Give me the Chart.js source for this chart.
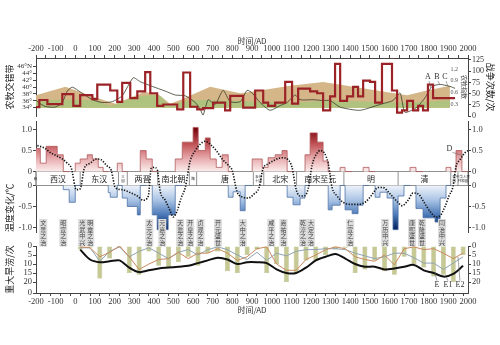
<!DOCTYPE html>
<html>
<head>
<meta charset="utf-8">
<script src="https://cdn.jsdelivr.net/npm/chart.js@4.4.1/dist/chart.umd.min.js"></script>
<style>
  body { margin: 0; background: #fff; width: 500px; height: 345px; position: relative; overflow: hidden; }
  canvas { position: absolute; left: 0; }
</style>
</head>
<body>
<canvas id="c1" width="500" height="122" style="top:0;width:500px;height:122px"></canvas>
<canvas id="c2" width="500" height="135" style="top:115px;width:500px;height:135px"></canvas>
<canvas id="c3" width="500" height="109" style="top:236px;width:500px;height:109px"></canvas>
<script>
// ---- top panel: 农牧交错带 / 战争次数 ----
const tanYears = [-200, -50, 112, 204, 350, 420, 483, 534, 687, 840, 941, 1094, 1262, 1384, 1567, 1690, 1791, 1908];
const tanLat = [37.6, 40.1, 36.8, 35.1, 38.6, 38.0, 35.1, 36.2, 40.1, 38.2, 39.0, 40.4, 41.5, 40.4, 38.7, 37.6, 39.0, 40.4];
const greenYears = [-200, -76, 102, 178, 229, 305, 382, 433, 473, 499, 534, 636, 789, 941, 1094, 1298, 1501, 1705, 1908];
const greenLat = [36.0, 36.3, 36.0, 34.6, 35.4, 37.1, 37.6, 37.4, 35.0, 34.3, 35.7, 36.2, 36.0, 35.7, 35.4, 36.0, 35.7, 35.4, 36.2];
const idxYears = [-219, -188, -153, -102, -66, -41, -15, 25, 87, 137, 188, 239, 295, 331, 392, 458, 509, 560, 611, 636, 651, 677, 712, 753, 789, 840, 875, 901, 941, 992, 1043, 1079, 1120, 1145, 1211, 1262, 1298, 1349, 1450, 1552, 1618, 1654, 1679, 1740, 1781, 1817, 1858, 1908, 1934];
const idxValues = [0.52, 0.35, 0.25, 0.23, 0.35, 0.64, 0.74, 0.62, 0.42, 0.35, 0.37, 0.52, 0.98, 0.88, 0.76, 0.64, 0.54, 0.52, 0.35, 0.18, 0.03, 0.42, 0.30, 0.66, 0.37, 0.37, 0.66, 0.59, 0.35, 0.15, 0.27, 0.35, 0.54, 0.42, 0.42, 0.40, 0.40, 0.23, 0.15, 0.30, 0.40, 0.59, 0.10, 0.23, 0.47, 0.76, 0.81, 0.76, 0.71];
const warYears = [-219, -183, -142, -66, -10, 25, 87, 112, 178, 214, 239, 280, 316, 356, 382, 417, 448, 519, 550, 585, 621, 651, 702, 763, 789, 855, 916, 957, 982, 1018, 1069, 1104, 1135, 1196, 1232, 1262, 1298, 1323, 1349, 1384, 1415, 1440, 1466, 1501, 1527, 1562, 1613, 1639, 1664, 1690, 1720, 1746, 1771, 1796, 1822, 1883, 1934];
const warCounts = [40, 20, 36, 27, 49, 23, 47, 38, 70, 57, 32, 74, 40, 55, 98, 51, 23, 26, 15, 97, 21, 15, 18, 30, 13, 45, 19, 57, 30, 23, 30, 76, 28, 61, 55, 51, 13, 44, 116, 34, 44, 65, 44, 79, 76, 30, 116, 57, 8, 13, 34, 13, 23, 13, 70, 40, 40];
const markNames = ['A', 'B', 'C'];
const markYears = [1796, 1842, 1883];
const markTargets = [0.72, 0.8, 0.76];

// ---- middle panel: 温度变化 ----
const tempYears = [-219, -178, -148, -92, -61, -31, 0, 25, 61, 87, 117, 142, 168, 178, 214, 239, 265, 316, 331, 361, 392, 417, 473, 509, 545, 600, 626, 662, 687, 718, 748, 779, 804, 840, 865, 901, 952, 982, 1018, 1053, 1079, 1109, 1145, 1170, 1196, 1232, 1262, 1288, 1308, 1349, 1374, 1410, 1440, 1466, 1496, 1527, 1552, 1588, 1618, 1644, 1674, 1705, 1735, 1771, 1796, 1832, 1858, 1888, 1913, 1939, 1969];
const tempValues = [1.0, 0.55, 0.2, 0.6, 0.4, -0.1, -0.4, 0.2, 0.3, 0.4, 0.3, 0.1, 0, -0.17, -0.28, 0.2, -0.3, -0.5, -0.7, 0.5, 0.3, -0.7, -1.05, -0.7, 0.3, 0.7, 1.05, 0.5, 0.8, 0.3, 0.1, 0.4, -0.28, -0.15, -0.6, 0, 0.3, 0.1, 0.33, 0.4, 0.5, -0.28, -0.46, -0.3, 0.4, 0.92, 0.7, 0.25, -0.58, -0.47, 0.1, -0.58, -0.67, -0.47, 0.1, 0, -0.28, -0.16, -0.3, -1.05, -0.25, 0, 0.1, -0.55, -0.77, -0.77, -0.87, -0.3, 0.1, 0, 0.5];
const curveYears = [-193, -153, -127, -97, -66, -41, -20, 5, 25, 46, 76, 107, 132, 158, 183, 204, 239, 280, 316, 346, 372, 387, 402, 417, 433, 458, 483, 499, 519, 539, 560, 585, 611, 636, 662, 687, 718, 748, 779, 799, 824, 855, 880, 911, 936, 957, 982, 1018, 1053, 1084, 1104, 1125, 1145, 1165, 1186, 1206, 1226, 1247, 1267, 1288, 1308, 1333, 1364, 1399, 1440, 1481, 1511, 1542, 1567, 1603, 1639, 1664, 1695, 1720, 1746, 1776, 1807, 1837, 1858, 1883, 1903, 1924, 1939, 1959, 1985, 2000];
const curveValues = [0.62, 0.55, 0.45, 0.38, 0.3, 0.2, 0.08, -0.1, -0.08, 0.08, 0.2, 0.3, 0.28, 0.15, 0.03, -0.05, -0.1, -0.17, -0.25, -0.35, -0.25, 0.08, 0.1, 0.05, -0.15, -0.35, -0.6, -0.75, -0.6, -0.3, -0.05, 0.25, 0.5, 0.65, 0.72, 0.65, 0.5, 0.3, 0.15, 0.03, -0.15, -0.28, -0.3, -0.2, -0.05, 0.08, 0.18, 0.28, 0.33, 0.28, 0.1, -0.1, -0.25, -0.25, -0.08, 0.15, 0.4, 0.5, 0.45, 0.2, -0.05, -0.25, -0.4, -0.45, -0.45, -0.38, -0.22, -0.05, -0.05, -0.2, -0.38, -0.48, -0.35, -0.18, -0.2, -0.4, -0.62, -0.75, -0.72, -0.5, -0.25, -0.02, 0.12, 0.28, 0.45, 0.5];
const dynastyNames = ['秦', '西汉', '东汉', '三国', '两晋', '南北朝', '隋', '唐', '五代十国', '北宋', '南宋至元', '明', '清', '民国', '中华人民共和国'];
const dynastyStart = [-221, -206, 25, 220, 265, 420, 581, 618, 907, 960, 1127, 1368, 1644, 1912, 1949];
const eventNames = ['文景之治', '昭宣之治', '光武中兴', '明章之治', '太元之治', '元嘉之治', '天监之治', '开皇之治', '贞观之治', '开元盛世', '大中之治', '咸平之治', '嘉祐之治', '乾淳之治', '大定之治', '仁宣之治', '万历中兴', '康熙盛世', '乾隆盛世', '同治中兴'];
const eventYears = [-163, -61, 35, 76, 377, 443, 534, 585, 638, 727, 853, 998, 1060, 1160, 1200, 1400, 1578, 1715, 1766, 1868];

// ---- bottom panel: 重大旱涝 ----
const floodYears = [25, 75, 125, 175, 225, 275, 325, 375, 425, 475, 525, 575, 625, 675, 725, 775, 825, 875, 925, 975, 1025, 1075, 1125, 1175, 1225, 1275, 1325, 1375, 1425, 1475, 1525, 1575, 1625, 1675, 1725, 1775, 1825, 1875, 1925, 1975];
const floodCounts = [2, 1, 18, 7, 1, 15, 16, 3, 11, 12, 9, 6, 11, 4, 3, 14, 15, 5, 2, 15, 10, 20, 15, 8, 8, 5, 2, 1, 15, 13, 8, 14, 16, 6, 10, 12, 17, 16, 20, 5];
const blackLine = [2, 7.5, 9, 8.5, 8, 12, 14.5, 13.5, 12.5, 12, 11.5, 11, 9.5, 8, 6.5, 7.5, 10, 9, 9, 9.5, 13, 15, 15, 12, 8, 6, 4.5, 7, 10, 11.5, 11.5, 13, 12.5, 11.5, 10.5, 13.5, 15, 17, 15.5, 11];
const orangeLine = [0.5, 1, 6, 3.5, 0, 6, 13, 10, 7.5, 7, 3.5, 7, 4, 4, 1.5, 4, 8, 6, 1.5, 0.5, 10, 13.5, 13.5, 7.5, 5, 2, 0.5, 1.5, 6, 7.5, 8.5, 5, 10.5, 1.5, 0.5, 2, 1.5, 4, 7, 4];
const grayLine = [1, 1, 8.5, 3, 0.5, 6, 3, 1, 4, 7, 3.5, 2, 5, 2, 0.5, 2, 5, 7.5, 3.5, 8, 4, 5.5, 3, 2, 2, 1.5, 1.5, 2, 4, 5.5, 7, 6, 4, 4, 6.5, 9.5, 9.5, 13, 9.5, 6];
const eNames = ['E', 'E1', 'E2'];
const eYears = [1842, 1898, 1959];
const eTargets = [15, 17, 6];

const CJK = '"Noto Sans CJK SC", sans-serif';
const SERIF = '"Liberation Serif", "DejaVu Serif", serif';
const AXIS = '#444';
const GAP = 0.165;

function xAxis(pos, show) {
  return {
    type: 'linear', position: pos, min: -200, max: 2000, offset: false, display: show,
    grid: { drawOnChartArea: false, tickLength: 3, color: AXIS },
    border: { color: AXIS },
    ticks: {
      stepSize: 50, autoSkip: false, maxRotation: 0, padding: 1, color: '#333',
      font: { family: SERIF, size: 8.5 },
      callback: v => (v % 100 === 0 ? String(v) : '')
    },
    title: { display: show, text: '时间/AD', color: '#333', font: { family: CJK, size: 8 }, padding: 0 },
    afterFit: a => { a.height = show ? 22 : 0; }
  };
}

function yAxis(pos, min, max, ticks, label, title, align, size) {
  return {
    type: 'linear', position: pos, min: min, max: max,
    grid: { drawOnChartArea: false, tickLength: 3, color: AXIS },
    border: { color: AXIS },
    afterBuildTicks: a => { a.ticks = ticks.map(v => ({ value: v })); },
    ticks: { autoSkip: false, color: '#333', padding: 1, font: { family: SERIF, size: size || 8.5 }, callback: label },
    title: title ? { display: true, text: title, align: align || 'center', color: '#222', font: { family: CJK, size: 9 }, padding: { top: 4, bottom: 0 } } : { display: false },
    afterFit: a => { a.width = pos === 'left' ? 36 : 32; }
  };
}

const baseOpts = {
  responsive: false, animation: false, events: [],
  plugins: { legend: { display: false }, tooltip: { enabled: false } }
};

function pts(xs, ys) { return xs.map((x, i) => ({ x: x, y: ys[i] })); }

// ---------- chart 1 ----------
const abcPlugin = {
  id: 'abc',
  afterDatasetsDraw(chart) {
    const c = chart.ctx, x = chart.scales.x, y = chart.scales.yI;
    c.save();
    c.font = '8px ' + SERIF; c.fillStyle = '#333'; c.strokeStyle = '#666'; c.lineWidth = 0.6;
    c.textAlign = 'center'; c.textBaseline = 'middle';
    markNames.forEach((n, i) => {
      const px = x.getPixelForValue(markYears[i]), py = y.getPixelForValue(1.0);
      c.fillText(n, px, py);
      c.beginPath(); c.moveTo(px + 1, py + 4);
      c.lineTo(x.getPixelForValue(markYears[i] + 15), y.getPixelForValue(markTargets[i]));
      c.stroke();
    });
    c.restore();
  }
};

new Chart(document.getElementById('c1'), {
  type: 'line',
  data: {
    datasets: [
      { data: pts(warYears, warCounts), yAxisID: 'yW', stepped: 'after', borderColor: '#9b2226', borderWidth: 2.2, pointRadius: 0, fill: false },
      { data: pts(idxYears, idxValues), yAxisID: 'yI', borderColor: '#3b3b2b', borderWidth: 0.8, pointRadius: 0, tension: 0.2, fill: false },
      { data: pts(greenYears, greenLat), yAxisID: 'yL', borderColor: 'rgba(0,0,0,0)', borderWidth: 0, backgroundColor: '#afc27e', pointRadius: 0, tension: 0.2, fill: { value: 34 } },
      { data: pts(tanYears, tanLat), yAxisID: 'yL', borderColor: 'rgba(0,0,0,0)', borderWidth: 0, backgroundColor: '#d4b688', pointRadius: 0, tension: 0, fill: { value: 34 } }
    ]
  },
  options: Object.assign({}, baseOpts, {
    layout: { padding: { top: 36, bottom: 3, left: 0, right: 0 } },
    scales: {
      x: xAxis('top', true),
      yL: yAxis('left', 31.49, 48.53, [34, 36, 38, 40, 42, 44, 46], v => (v === 46 ? '46°N' : v + '°'), '农牧交错带', 'center', 7),
      yI: {
        type: 'linear', position: 'right', min: 0, max: 1.484,
        grid: { display: false }, border: { display: false },
        afterBuildTicks: a => { a.ticks = [0.3, 0.6, 0.9, 1.2].map(v => ({ value: v })); },
        ticks: { autoSkip: false, mirror: true, padding: -10, color: '#555', font: { family: SERIF, size: 6 }, callback: v => v.toFixed(1) },
        title: { display: true, text: '农牧指数', color: '#333', font: { family: CJK, size: 6 }, padding: { top: 0, bottom: 0 } },
        afterFit: a => { a.width = 0; }
      },
      yW: yAxis('right', 0, 129.2, [0, 25, 50, 75, 100, 125], v => String(v), '战争次数/次', 'center', 8)
    }
  }),
  plugins: [abcPlugin]
});

// ---------- chart 2 ----------
function toU(v) { return v > 0 ? v + GAP : (v < 0 ? v - GAP : 0); }
function fromU(u) {
  const v = Math.round((u > 0 ? u - GAP : u + GAP) * 10) / 10;
  return v === 0 ? '0' : v.toFixed(1);
}
const uTicks = [1 + GAP, 0.5 + GAP, GAP, -GAP, -0.5 - GAP, -1 - GAP];

const warmPts = tempYears.map((yr, i) => ({ x: yr, y: tempValues[i] > 0 ? tempValues[i] + GAP : GAP }));
warmPts.push({ x: 2000, y: GAP });
const coldPts = tempYears.map((yr, i) => ({ x: yr, y: tempValues[i] < 0 ? tempValues[i] - GAP : -GAP }));
coldPts.push({ x: 2000, y: -GAP });

function grad(chart, from, to, stops) {
  const a = chart.chartArea;
  if (!a) return 'rgba(0,0,0,0)';
  const s = chart.scales.y;
  const g = chart.ctx.createLinearGradient(0, s.getPixelForValue(from), 0, s.getPixelForValue(to));
  stops.forEach(st => g.addColorStop(st[0], st[1]));
  return g;
}

const bandPlugin = {
  id: 'band',
  beforeDatasetsDraw(chart) {
    const c = chart.ctx, x = chart.scales.x, y = chart.scales.y, a = chart.chartArea;
    const top = y.getPixelForValue(GAP), bot = y.getPixelForValue(-GAP);
    c.save();
    c.fillStyle = '#fff'; c.strokeStyle = '#777'; c.lineWidth = 0.8;
    c.fillRect(a.left, top, a.right - a.left, bot - top);
    c.strokeRect(a.left, top, a.right - a.left, bot - top);
    c.textAlign = 'center'; c.textBaseline = 'middle'; c.fillStyle = '#222';
    dynastyNames.forEach((n, i) => {
      const x0 = x.getPixelForValue(Math.max(dynastyStart[i], -200));
      const x1 = x.getPixelForValue(i + 1 < dynastyStart.length ? dynastyStart[i + 1] : 2000);
      if (i > 0) { c.beginPath(); c.moveTo(x0, top); c.lineTo(x0, bot); c.stroke(); }
      const w = x1 - x0, mid = (x0 + x1) / 2, cy = (top + bot) / 2;
      if (w > 22) {
        c.font = '8px ' + CJK; c.fillText(n, mid, cy);
      } else {
        c.font = '3.5px ' + CJK;
        const lines = n.length > 2 ? [n.slice(0, Math.ceil(n.length / 2)), n.slice(Math.ceil(n.length / 2))] : (w < 10 && n.length === 2 ? [n[0], n[1]] : [n]);
        lines.forEach((l, k) => c.fillText(l, mid, cy + (k - (lines.length - 1) / 2) * 4.5));
      }
    });
    c.restore();
  },
  afterDatasetsDraw(chart) {
    const c = chart.ctx, x = chart.scales.x, y = chart.scales.y, a = chart.chartArea;
    c.save();
    c.font = '6px ' + CJK; c.textAlign = 'center'; c.textBaseline = 'middle';
    eventNames.forEach((n, i) => {
      const px = x.getPixelForValue(eventYears[i]);
      const top = a.bottom - 13, h = n.length * 6.6 + 1;
      c.fillStyle = '#dcdcdc'; c.fillRect(px - 4, top, 8, h);
      c.fillStyle = '#444';
      for (let k = 0; k < n.length; k++) c.fillText(n[k], px, top + 3.8 + k * 6.6);
    });
    // D marker
    const dx = x.getPixelForValue(1905), dy = y.getPixelForValue(toU(0.55));
    c.font = '8px ' + SERIF; c.fillStyle = '#333'; c.fillText('D', dx, dy);
    c.strokeStyle = '#666'; c.lineWidth = 0.6;
    c.beginPath(); c.moveTo(dx + 3, dy + 4); c.lineTo(x.getPixelForValue(1975), y.getPixelForValue(toU(0.38))); c.stroke();
    c.restore();
  }
};

new Chart(document.getElementById('c2'), {
  type: 'line',
  data: {
    datasets: [
      { data: pts(curveYears, curveValues.map(toU)), borderColor: '#111', borderWidth: 1.6, borderDash: [1.3, 1.5], pointRadius: 0, cubicInterpolationMode: 'monotone', fill: false },
      {
        data: warmPts, stepped: 'after', pointRadius: 0, borderWidth: 0.8, borderColor: '#b05a5c',
        segment: { borderColor: s => (s.p0.parsed.y === GAP && s.p1.parsed.y === GAP ? 'rgba(0,0,0,0)' : undefined) },
        backgroundColor: c => grad(c.chart, 1 + GAP, GAP, [[0, '#7a0710'], [0.35, '#c25458'], [0.7, '#e9aeb0'], [1, '#fbeeee']]),
        fill: { value: GAP }
      },
      {
        data: coldPts, stepped: 'after', pointRadius: 0, borderWidth: 0.8, borderColor: '#4f72a6',
        segment: { borderColor: s => (s.p0.parsed.y === -GAP && s.p1.parsed.y === -GAP ? 'rgba(0,0,0,0)' : undefined) },
        backgroundColor: c => grad(c.chart, -GAP, -1 - GAP, [[0, '#eef3fa'], [0.35, '#a9c3e4'], [0.7, '#4a78b8'], [1, '#0a2a66']]),
        fill: { value: -GAP }
      }
    ]
  },
  options: Object.assign({}, baseOpts, {
    layout: { padding: { top: 5, bottom: 18, left: 0, right: 0 } },
    scales: {
      x: xAxis('bottom', false),
      y: yAxis('left', -1.271, 1.365, uTicks, fromU, '温度变化/℃', 'start'),
      y2: yAxis('right', -1.271, 1.365, uTicks, fromU, null)
    }
  }),
  plugins: [bandPlugin]
});

// ---------- chart 3 ----------
const ePlugin = {
  id: 'eLabels',
  afterDatasetsDraw(chart) {
    const c = chart.ctx, x = chart.scales.x, y = chart.scales.y;
    c.save();
    c.font = '8px ' + SERIF; c.fillStyle = '#333'; c.strokeStyle = '#666'; c.lineWidth = 0.6;
    c.textAlign = 'center'; c.textBaseline = 'middle';
    eNames.forEach((n, i) => {
      const px = x.getPixelForValue(eYears[i]), py = y.getPixelForValue(21.5);
      c.fillText(n, px, py);
      c.beginPath(); c.moveTo(px, py - 4);
      c.lineTo(x.getPixelForValue(eYears[i] - 10), y.getPixelForValue(eTargets[i]));
      c.stroke();
    });
    c.restore();
  }
};

new Chart(document.getElementById('c3'), {
  type: 'bar',
  data: {
    datasets: [
      { type: 'line', data: pts(floodYears, blackLine), borderColor: '#111', borderWidth: 2, pointRadius: 0, tension: 0.3, fill: false },
      { type: 'line', data: pts(floodYears, orangeLine), borderColor: '#c98a5e', borderWidth: 1, pointRadius: 0, tension: 0, fill: false },
      { type: 'line', data: pts(floodYears, grayLine), borderColor: '#8ea3b4', borderWidth: 1, pointRadius: 0, tension: 0, fill: false },
      { type: 'bar', data: pts(floodYears, floodCounts), backgroundColor: '#c6c993', borderColor: '#a9ac72', borderWidth: 0.5, barPercentage: 0.5, categoryPercentage: 1 }
    ]
  },
  options: Object.assign({}, baseOpts, {
    layout: { padding: { top: 10, bottom: 30, left: 0, right: 0 } },
    scales: {
      x: xAxis('bottom', true),
      y: Object.assign(yAxis('left', 0, 26.1, [0, 5, 10, 15, 20, 26.1], v => (v > 21 ? '0' : String(v)), '重大旱涝/次'), { reverse: true }),
      y2: Object.assign(yAxis('right', 0, 26.1, [0, 5, 10, 15, 20], v => String(v), null), { reverse: true })
    }
  }),
  plugins: [ePlugin]
});
</script>
</body>
</html>
